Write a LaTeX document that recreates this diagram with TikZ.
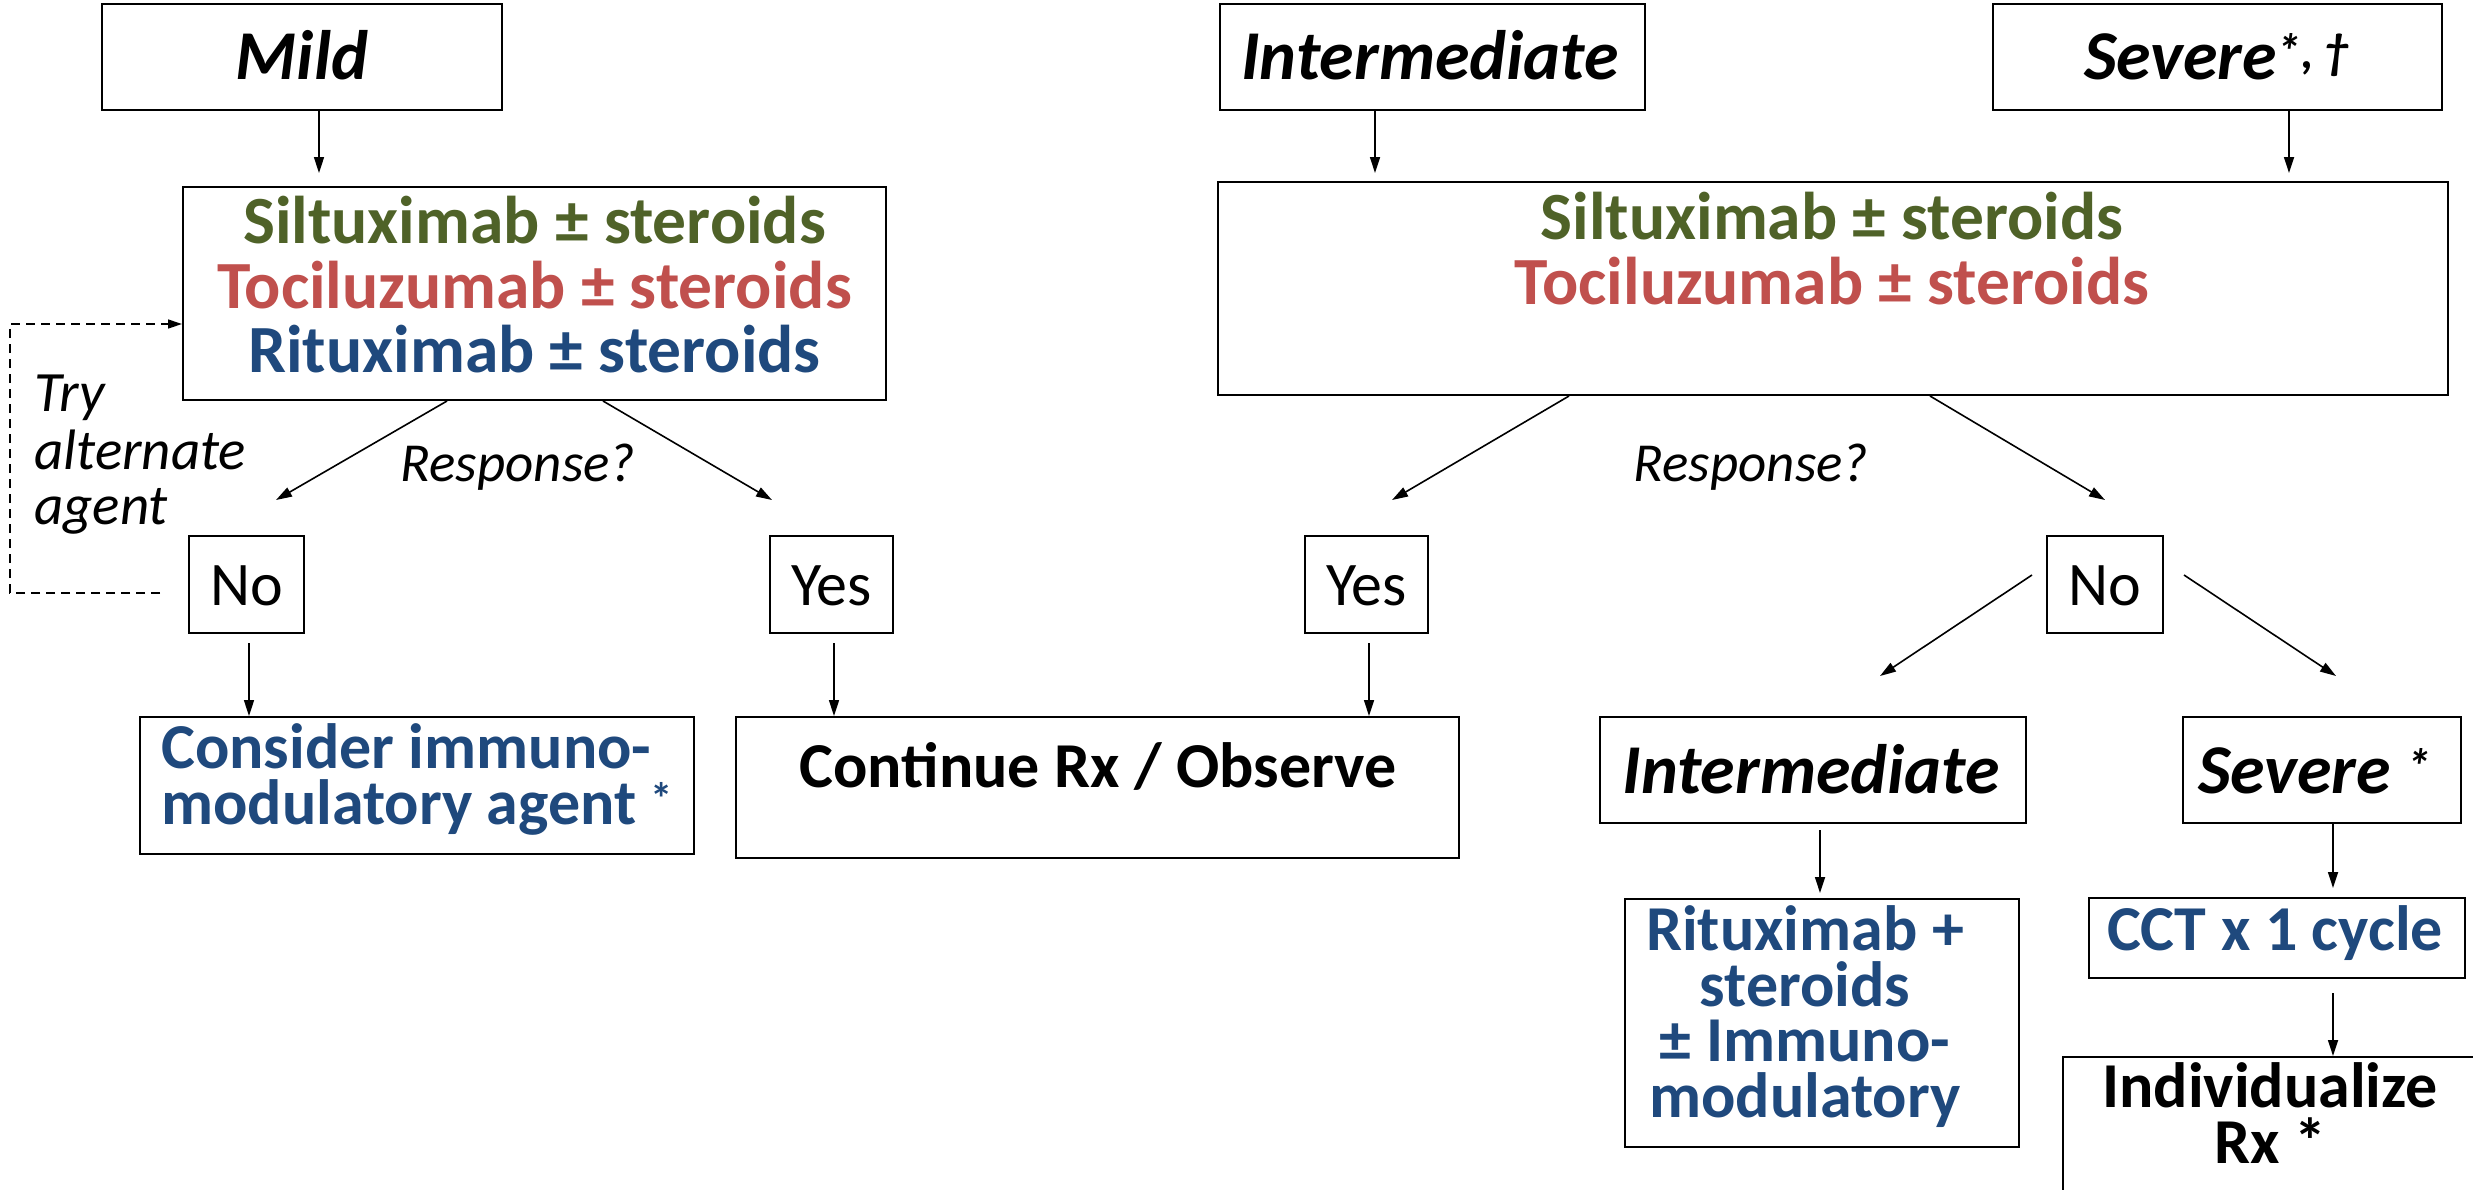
\documentclass[tikz,border=0pt]{standalone}
\usepackage{fontspec}
\setmainfont{Carlito}
\usetikzlibrary{arrows.meta,calc}
\definecolor{sgreen}{HTML}{4F6228}
\definecolor{tred}{HTML}{C0504D}
\definecolor{rblue}{HTML}{1F497D}
\newcommand\mkbox[5]{\node[box,minimum width={(#4)-(#2)},minimum height={(#5)-(#3)}] (#1) at ({((#2)+(#4))/2},{((#3)+(#5))/2}) {};}
\tikzset{
  box/.style={draw, line width=2pt, inner sep=0pt},
  arr/.style={-{Triangle[length=16pt,width=10pt]}, line width=1.6pt},
  dasharr/.style={-{Triangle[length=14pt,width=9pt]}, line width=1.4pt, dash pattern=on 9pt off 6pt},
  txt/.style={inner sep=0pt, anchor=base},
  hdr/.style={txt, font=\fontsize{70}{70}\selectfont\bfseries\itshape},
  drug/.style={txt, font=\fontsize{64}{64}\selectfont\bfseries},
  bigdrug/.style={txt, font=\fontsize{67.5}{67.5}\selectfont\bfseries},
  multi/.style={txt, align=center, font=\fontsize{64}{55.5}\selectfont\bfseries},
  yn/.style={txt, font=\fontsize{62}{62}\selectfont},
  resp/.style={txt, font=\fontsize{55}{55}\selectfont\itshape},
  tryf/.style={txt, anchor=base west, font=\fontsize{57}{57}\selectfont\itshape},
}
\begin{document}
\begin{tikzpicture}[x=1pt,y=-1pt]
\path[use as bounding box] (0,0) rectangle (2473,1189);
\clip (0,0) rectangle (2473,1189);
% boxes
\mkbox{mild}{102}{4}{502}{110}
\mkbox{inter}{1220}{4}{1645}{110}
\mkbox{severe}{1993}{4}{2442}{110}
\mkbox{box1}{183}{187}{886}{400}
\mkbox{box2}{1218}{182}{2448}{395}
\mkbox{no1}{189}{536}{304}{633}
\mkbox{yes1}{770}{536}{893}{633}
\mkbox{yes2}{1305}{536}{1428}{633}
\mkbox{no2}{2047}{536}{2163}{633}
\mkbox{consider}{140}{717}{694}{854}
\mkbox{cont}{736}{717}{1459}{858}
\mkbox{inter2}{1600}{717}{2026}{823}
\mkbox{sev2}{2183}{717}{2461}{823}
\mkbox{ritux}{1625}{899}{2019}{1147}
\mkbox{cct}{2089}{898}{2465}{978}
\mkbox{indiv}{2063}{1057}{2500}{1230}
% texts
\node[hdr] (tmild) at (302,79) {Mild};
\node[hdr] (tinter) at (1430,79) {Intermediate};
\node[hdr] (tsev) at (2217,79) {Severe\textsuperscript{*, †}};
\node[bigdrug, text=sgreen] (s1) at (534.5,243) {Siltuximab ± steroids};
\node[bigdrug, text=tred] (t1) at (534.5,308) {Tociluzumab ± steroids};
\node[bigdrug, text=rblue] (r1) at (534.5,372) {Rituximab ± steroids};
\node[bigdrug, text=sgreen] (s2) at (1832,239) {Siltuximab ± steroids};
\node[bigdrug, text=tred] (t2) at (1832,304) {Tociluzumab ± steroids};
\node[tryf] (try1) at (34,411) {Try};
\node[tryf] (try2) at (34,469) {alternate};
\node[tryf] (try3) at (34,524) {agent};
\node[resp] (resp1) at (518,481) {Response?};
\node[resp] (resp2) at (1751,481) {Response?};
\node[yn] (tno1) at (246.5,605) {No};
\node[yn] (tyes1) at (831.5,605) {Yes};
\node[yn] (tyes2) at (1366.5,605) {Yes};
\node[yn] (tno2) at (2105,605) {No};
\node[drug, text=rblue, anchor=base west] (c1) at (161,768) {Consider immuno-};
\node[drug, text=rblue, anchor=base west] (c2) at (161,824) {modulatory agent \textsuperscript{*}};
\node[drug] (tcont) at (1098,787) {Continue Rx / Observe};
\node[hdr] (tinter2) at (1811,793) {Intermediate};
\node[hdr] (tsev2) at (2315,793) {Severe \textsuperscript{*}};
\node[multi, text=rblue] (rx) at (1805,1117) {Rituximab +\\steroids\\± Immuno-\\modulatory};
\node[drug, text=rblue] (tcct) at (2275,950) {CCT x 1 cycle};
\node[multi] (ind) at (2270,1163) {Individualize\\Rx *};
% arrows
\draw[arr] ($(mild.south)+(17,0)$) -- ($(box1.north)+(-215.5,-13)$);
\draw[arr] ($(inter.south)+(-57.5,0)$) -- ($(box2.north)+(-458,-8)$);
\draw[arr] ($(severe.south)+(71.5,0)$) -- ($(box2.north)+(456,-8)$);
\draw[arr] ($(box1.south)+(-87.5,0)$) -- ($(no1.north)+(29.5,-35)$);
\draw[arr] ($(box1.south)+(68.5,0)$) -- ($(yes1.north)+(-59.5,-35)$);
\draw[arr] ($(box2.south)+(-264,0)$) -- ($(yes2.north)+(25.5,-35)$);
\draw[arr] ($(box2.south)+(97,0)$) -- ($(no2.north)+(0,-35)$);
\draw[arr] ($(no1.south)+(2.5,9)$) -- ($(consider.north)+(-168,0)$);
\draw[arr] ($(yes1.south)+(2.5,9)$) -- ($(cont.north)+(-263.5,0)$);
\draw[arr] ($(yes2.south)+(2.5,9)$) -- ($(cont.north)+(271.5,0)$);
\draw[arr] ($(no2.west)+(-14,-9.5)$) -- ($(inter2.north)+(67,-40)$);
\draw[arr] ($(no2.east)+(20,-9.5)$) -- ($(sev2.north)+(14,-40)$);
\draw[arr] ($(inter2.south)+(7,6)$) -- ($(ritux.north)+(-2,-5)$);
\draw[arr] ($(sev2.south)+(11,0)$) -- ($(cct.north)+(56,-9)$);
\draw[arr] ($(cct.south)+(56,14)$) -- ($(indiv.north)+(51.5,0)$);
\draw[dasharr] ($(no1.west)+(-28,8.5)$) -- ++(-150,0) |- ($(box1.west)+(0,30.5)$);
\end{tikzpicture}
\end{document}
